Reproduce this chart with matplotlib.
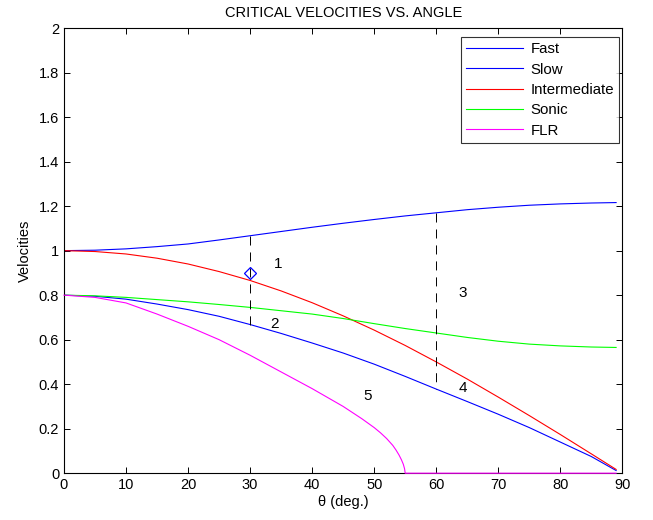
import matplotlib
matplotlib.use('Agg')
import matplotlib.pyplot as plt

plt.rcParams['font.family'] = ['Liberation Sans', 'DejaVu Sans']
plt.rcParams['font.size'] = 10.5
plt.rcParams['lines.scale_dashes'] = False

# values
theta = [0, 5, 10, 15, 20, 25, 30, 35, 40, 45, 50, 55, 60, 65, 70, 75, 80, 85, 89]
fast = [1.0, 1.002, 1.008, 1.018, 1.03, 1.048, 1.067, 1.086, 1.105, 1.123,
        1.14, 1.156, 1.17, 1.184, 1.195, 1.204, 1.21, 1.214, 1.216]
slow = [0.8, 0.795, 0.782, 0.76, 0.735, 0.705, 0.668, 0.628, 0.585, 0.54,
        0.49, 0.435, 0.378, 0.322, 0.265, 0.205, 0.14, 0.075, 0.012]
inter = [1.0, 0.996, 0.985, 0.966, 0.94, 0.906, 0.866, 0.819, 0.766, 0.707,
         0.643, 0.574, 0.5, 0.423, 0.342, 0.259, 0.174, 0.087, 0.017]
sonic = [0.8, 0.797, 0.79, 0.78, 0.77, 0.758, 0.745, 0.73, 0.715, 0.695,
         0.672, 0.65, 0.63, 0.61, 0.593, 0.58, 0.572, 0.567, 0.565]

theta_flr = [0, 5, 10, 15, 20, 25, 30, 35, 40, 45, 48, 50, 51, 52, 53, 53.5,
             54, 54.4, 54.7, 54.9, 55, 89]
flr = [0.8, 0.79, 0.765, 0.715, 0.66, 0.6, 0.53, 0.455, 0.38, 0.3, 0.245,
       0.205, 0.182, 0.156, 0.125, 0.105, 0.082, 0.06, 0.04, 0.02, 0.0, 0.0]

# dashed markers between fast and slow
cut_theta = [30, 60]
cut_top = [1.067, 1.17]
cut_bot = [0.668, 0.378]
diamond = (30, 0.9)

region_labels = ['1', '2', '3', '4', '5']
region_x = [34.5, 34.0, 64.3, 64.3, 49.0]
region_y = [0.94, 0.67, 0.81, 0.385, 0.345]

fig = plt.figure(figsize=(6.53, 5.20), dpi=100)
ax = fig.add_axes([0.098, 0.09, 0.855, 0.856])

lw = 0.8
ax.plot(theta, fast, color='#0000ff', lw=lw, label='Fast')
ax.plot(theta, slow, color='#0000ff', lw=lw, label='Slow')
ax.plot(theta, inter, color='#ff0000', lw=lw, label='Intermediate')
ax.plot(theta, sonic, color='#00ff00', lw=lw, label='Sonic')
ax.plot(theta_flr, flr, color='#ff00ff', lw=lw, label='FLR', clip_on=False, zorder=3)

for t, a, b in zip(cut_theta, cut_top, cut_bot):
    ax.plot([t, t], [a, b], color='black', lw=0.7, linestyle=(0, (6.5, 5)))

ax.plot([diamond[0]], [diamond[1]], marker='D', markersize=6, mfc='none',
        mec='#0000ff', mew=0.9, linestyle='none')

for s, x, y in zip(region_labels, region_x, region_y):
    ax.text(x, y, s, fontsize=11, ha='center', va='center')

ax.set_xlim(0, 90)
ax.set_ylim(0, 2)
ax.set_xticks(range(0, 91, 10))
ax.set_yticks([0, 0.2, 0.4, 0.6, 0.8, 1, 1.2, 1.4, 1.6, 1.8, 2])
ax.set_yticklabels(['0', '0.2', '0.4', '0.6', '0.8', '1', '1.2', '1.4', '1.6', '1.8', '2'])
ax.tick_params(direction='in', top=True, right=True, length=4, width=0.7, labelsize=10.5)
for sp in ax.spines.values():
    sp.set_linewidth(0.8)

ax.set_title('CRITICAL VELOCITIES VS. ANGLE', fontsize=10.5, pad=8)
ax.set_xlabel('\u03b8 (deg.)', fontsize=10.5, labelpad=2)
ax.set_ylabel('Velocities', fontsize=10.5, labelpad=5)

leg = ax.legend(loc='upper right', bbox_to_anchor=(1 - 3 / 558, 1 - 9 / 445),
                fontsize=10.8, frameon=True, fancybox=False,
                edgecolor='black', handlelength=3.8, borderpad=0.35,
                labelspacing=0.42, handletextpad=0.5, borderaxespad=0)
leg.get_frame().set_linewidth(0.8)

fig.savefig('out.png', dpi=100)
